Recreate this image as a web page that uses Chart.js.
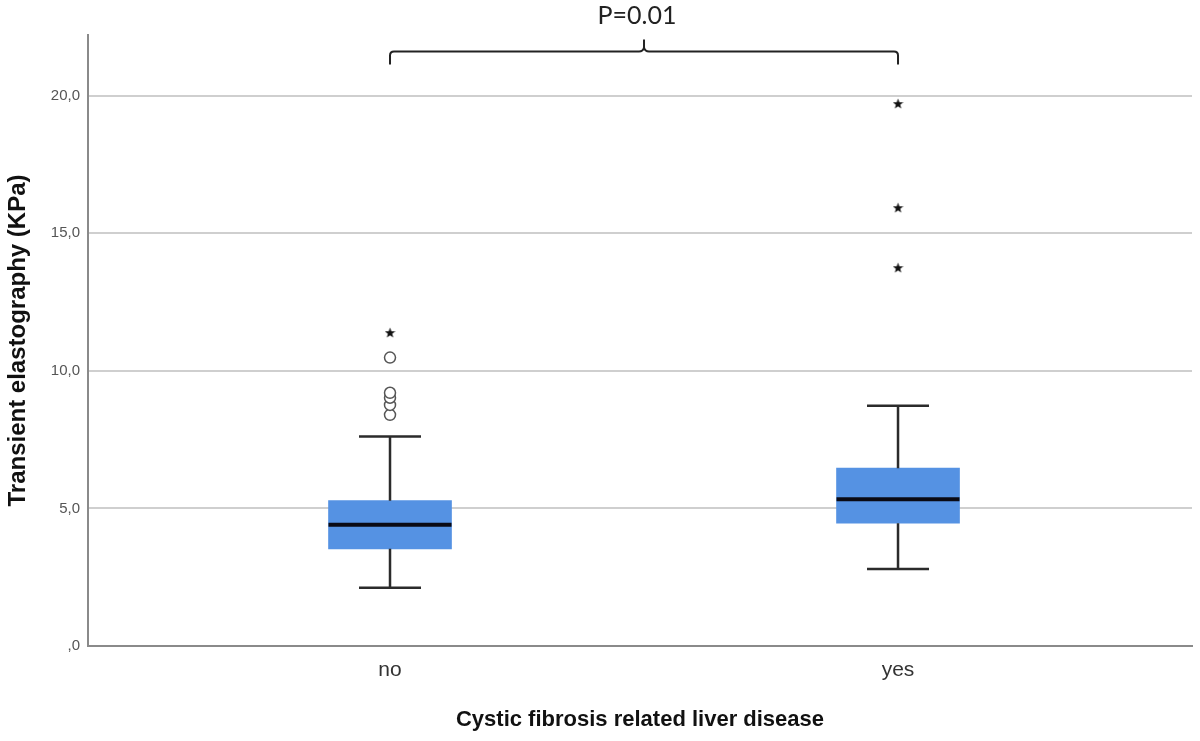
<!DOCTYPE html>
<html>
<head>
<meta charset="utf-8">
<script src="https://cdn.jsdelivr.net/npm/chart.js@4.4.0/dist/chart.umd.min.js"></script>
<style>
  body { margin: 0; background: #fff; }
  #chart { display: block; }
</style>
</head>
<body>
<canvas id="chart" width="1200" height="741"></canvas>
<script>
// Box plot values (KPa)
const categories = ['no', 'yes'];
const whiskerLow = [2.12, 2.80];
const q1 = [3.53, 4.46];
const median = [4.41, 5.33];
const q3 = [5.28, 6.46];
const whiskerHigh = [7.61, 8.73];

// outliers (circles) and extremes (stars)
const outliersNo = [8.40, 8.76, 9.02, 9.20, 10.48];
const extremesNo = [11.39];
const extremesYes = [13.75, 15.93, 19.71];

const yTicks = [0, 5, 10, 15, 20];
const pLabel = 'P=0.01';
const bracketLevel = 21.6;

// small filled star used as point style
function makeStar(size, color) {
    const c = document.createElement('canvas');
    c.width = size; c.height = size;
    const g = c.getContext('2d');
    const cx = size / 2, cy = size / 2 + 0.5, R = size / 2, r = R * 0.42;
    g.beginPath();
    for (let i = 0; i < 10; i++) {
        const rad = i % 2 === 0 ? R : r;
        const a = -Math.PI / 2 + i * Math.PI / 5;
        const px = cx + rad * Math.cos(a), py = cy + rad * Math.sin(a);
        if (i === 0) g.moveTo(px, py); else g.lineTo(px, py);
    }
    g.closePath();
    g.fillStyle = color;
    g.fill();
    return c;
}
const starImg = makeStar(11, '#111');

// whiskers, caps, medians and the significance bracket
const boxExtras = {
    id: 'boxExtras',
    afterDatasetsDraw(chart) {
        const { ctx, scales: { x, y } } = chart;
        ctx.save();
        ctx.lineCap = 'butt';
        categories.forEach((c, i) => {
            const cx = x.getPixelForValue(i);
            ctx.strokeStyle = '#2b2b2b';
            ctx.lineWidth = 2.5;
            ctx.beginPath();
            ctx.moveTo(cx, y.getPixelForValue(q3[i]));
            ctx.lineTo(cx, y.getPixelForValue(whiskerHigh[i]));
            ctx.moveTo(cx, y.getPixelForValue(q1[i]));
            ctx.lineTo(cx, y.getPixelForValue(whiskerLow[i]));
            ctx.moveTo(cx - 31, y.getPixelForValue(whiskerHigh[i]));
            ctx.lineTo(cx + 31, y.getPixelForValue(whiskerHigh[i]));
            ctx.moveTo(cx - 31, y.getPixelForValue(whiskerLow[i]));
            ctx.lineTo(cx + 31, y.getPixelForValue(whiskerLow[i]));
            ctx.stroke();

            ctx.strokeStyle = '#0a0a14';
            ctx.lineWidth = 4;
            ctx.beginPath();
            ctx.moveTo(cx - 61.5, y.getPixelForValue(median[i]));
            ctx.lineTo(cx + 61.5, y.getPixelForValue(median[i]));
            ctx.stroke();
        });

        // bracket between the two groups
        const x0 = x.getPixelForValue(0), x1 = x.getPixelForValue(1);
        const by = y.getPixelForValue(bracketLevel);
        const mid = (x0 + x1) / 2;
        ctx.strokeStyle = '#222';
        ctx.lineWidth = 2;
        ctx.beginPath();
        ctx.moveTo(x0, by + 13);
        ctx.lineTo(x0, by + 4);
        ctx.quadraticCurveTo(x0, by, x0 + 4, by);
        ctx.lineTo(mid - 5, by);
        ctx.quadraticCurveTo(mid - 1, by, mid, by - 4);
        ctx.lineTo(mid, by - 12);
        ctx.moveTo(mid, by - 4);
        ctx.quadraticCurveTo(mid + 1, by, mid + 5, by);
        ctx.lineTo(x1 - 4, by);
        ctx.quadraticCurveTo(x1, by, x1, by + 4);
        ctx.lineTo(x1, by + 13);
        ctx.stroke();

        ctx.fillStyle = '#222';
        ctx.font = '25px Lato, "Open Sans", sans-serif';
        ctx.textAlign = 'center';
        ctx.textBaseline = 'middle';
        ctx.fillText(pLabel, mid - 7, 16);
        ctx.restore();
    }
};

const ctx = document.getElementById('chart').getContext('2d');
new Chart(ctx, {
    type: 'bar',
    data: {
        datasets: [
            {
                type: 'bar',
                label: 'IQR',
                data: categories.map((c, i) => ({ x: i, y: [q1[i], q3[i]] })),
                backgroundColor: '#5592e3',
                borderWidth: 0,
                barThickness: 123,
                order: 3
            },
            {
                type: 'scatter',
                label: 'Outliers',
                data: outliersNo.map(v => ({ x: 0, y: v })),
                pointStyle: 'circle',
                pointRadius: 5.5,
                pointBackgroundColor: '#fff',
                pointBorderColor: '#555',
                pointBorderWidth: 1.5,
                order: 1
            },
            {
                type: 'scatter',
                label: 'Extremes',
                data: extremesNo.map(v => ({ x: 0, y: v }))
                    .concat(extremesYes.map(v => ({ x: 1, y: v }))),
                pointStyle: starImg,
                order: 0
            }
        ]
    },
    options: {
        responsive: false,
        animation: false,
        layout: { padding: { top: 35, right: 8, left: 0, bottom: 0 } },
        plugins: {
            legend: { display: false },
            tooltip: { enabled: false }
        },
        scales: {
            x: {
                type: 'linear',
                offset: false,
                min: -0.5945,
                max: 1.5787,
                afterFit: scale => { scale.height = 95; },
                afterBuildTicks: scale => { scale.ticks = categories.map((c, i) => ({ value: i })); },
                grid: { display: false, drawTicks: false },
                border: { display: true, color: '#8a8a8a', width: 2 },
                ticks: {
                    padding: 12,
                    color: '#333',
                    font: { family: '"Liberation Sans", Arial, sans-serif', size: 21 },
                    callback: v => categories[v]
                },
                title: {
                    display: true,
                    text: 'Cystic fibrosis related liver disease',
                    color: '#111',
                    font: { family: '"Liberation Sans", Arial, sans-serif', size: 22, weight: 'bold' },
                    padding: { top: 0, bottom: 8 }
                }
            },
            y: {
                min: 0,
                max: 22.2,
                afterFit: scale => { scale.width = 88; },
                afterBuildTicks: scale => { scale.ticks = yTicks.map(v => ({ value: v })); },
                grid: {
                    drawTicks: false,
                    lineWidth: 2,
                    color: ctx => ctx.tick && ctx.tick.value === 0 ? 'rgba(0,0,0,0)' : '#cfcfcf'
                },
                border: { display: true, color: '#8a8a8a', width: 2 },
                ticks: {
                    padding: 8,
                    color: '#555',
                    font: { family: '"Liberation Sans", Arial, sans-serif', size: 15 },
                    callback: v => v === 0 ? ',0' : v.toFixed(1).replace('.', ',')
                },
                title: {
                    display: true,
                    text: 'Transient elastography (KPa)',
                    color: '#111',
                    font: { family: '"Liberation Sans", Arial, sans-serif', size: 24, weight: 'bold' },
                    padding: { top: 4, bottom: 0 }
                }
            }
        }
    },
    plugins: [boxExtras]
});
</script>
</body>
</html>
